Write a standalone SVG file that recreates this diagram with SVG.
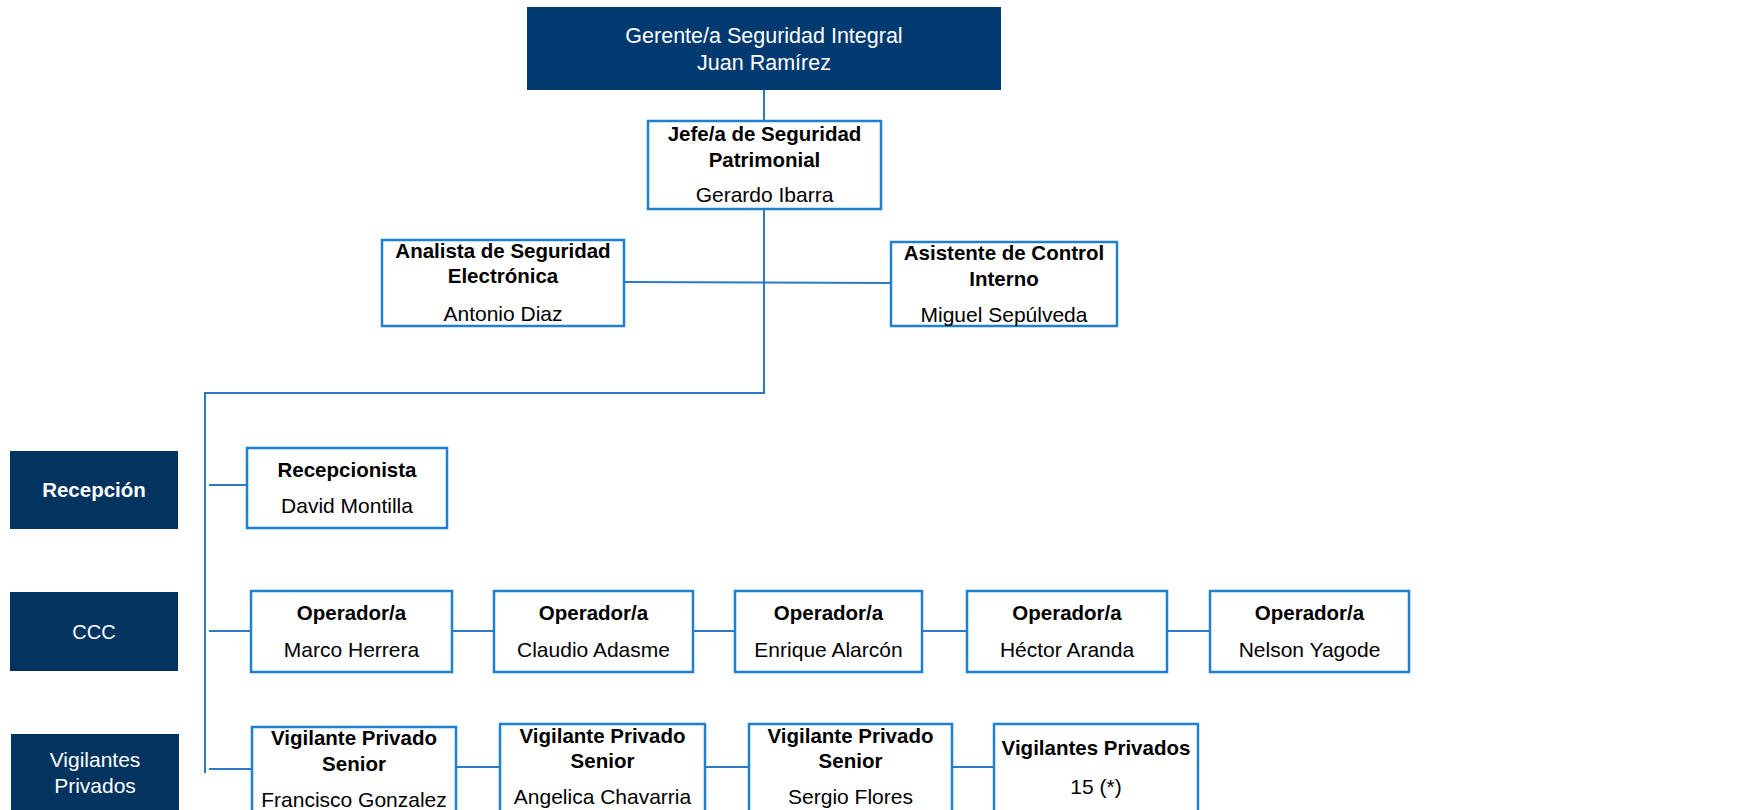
<svg xmlns="http://www.w3.org/2000/svg" width="1754" height="810" viewBox="0 0 1754 810">
<style>
.box{fill:#ffffff;stroke:#1F80D0;stroke-width:2.5}
.dark{fill:#013A70}
.side{fill:#03335F}
.conn{fill:none;stroke:#2A7BC4;stroke-width:2}
text{font-family:"Liberation Sans",Arial,sans-serif;text-anchor:middle;fill:#000000}
.b{font-weight:bold;font-size:20.5px}
.n{font-size:21px}
.w{fill:#ffffff}
</style>
<rect width="1754" height="810" fill="#ffffff"/>
<g id="connectors">
<path class="conn" d="M764 90 V120"/>
<path class="conn" d="M764 209 V393 H205 V773"/>
<path class="conn" d="M624 282 L891 283"/>
<path class="conn" d="M209 485 H247"/>
<path class="conn" d="M209 631 H251"/>
<path class="conn" d="M209 769 H252"/>
<path class="conn" d="M452 631 H494 M693 631 H735 M922 631 H967 M1167 631 H1210"/>
<path class="conn" d="M456 767 H500 M705 767 H749 M950 767 H994"/>
</g>
<g id="gerente">
<rect class="dark" x="527" y="7" width="474" height="83"/>
<text class="n w" x="764" y="43" style="font-size:21.5px">Gerente/a Seguridad Integral</text>
<text class="n w" x="764" y="70" style="font-size:21.5px">Juan Ramírez</text>
</g>
<g id="jefe">
<rect class="box" x="648" y="121" width="233" height="88"/>
<text class="b" x="764.5" y="141">Jefe/a de Seguridad</text>
<text class="b" x="764.5" y="167">Patrimonial</text>
<text class="n" x="764.5" y="202">Gerardo Ibarra</text>
</g>
<g id="analista">
<rect class="box" x="382" y="240" width="242" height="86"/>
<text class="b" x="503" y="258">Analista de Seguridad</text>
<text class="b" x="503" y="283">Electrónica</text>
<text class="n" x="503" y="321">Antonio Diaz</text>
</g>
<g id="asistente">
<rect class="box" x="891" y="242" width="226" height="84"/>
<text class="b" x="1004" y="260">Asistente de Control</text>
<text class="b" x="1004" y="286">Interno</text>
<text class="n" x="1004" y="322">Miguel Sepúlveda</text>
</g>
<g id="recepcion-label">
<rect class="side" x="10" y="451" width="168" height="78"/>
<text class="b w" x="94" y="497">Recepción</text>
</g>
<g id="ccc-label">
<rect class="side" x="10" y="592" width="168" height="79"/>
<text class="n w" x="94" y="639" style="font-size:20px">CCC</text>
</g>
<g id="vigilantes-label">
<rect class="side" x="11" y="734" width="168" height="80"/>
<text class="n w" x="95" y="767">Vigilantes</text>
<text class="n w" x="95" y="793">Privados</text>
</g>
<g id="recepcionista">
<rect class="box" x="247" y="448" width="200" height="80"/>
<text class="b" x="347" y="477">Recepcionista</text>
<text class="n" x="347" y="513">David Montilla</text>
</g>
<g id="op1">
<rect class="box" x="251" y="591" width="201" height="81"/>
<text class="b" x="351.5" y="620">Operador/a</text>
<text class="n" x="351.5" y="657">Marco Herrera</text>
</g>
<g id="op2">
<rect class="box" x="494" y="591" width="199" height="81"/>
<text class="b" x="593.5" y="620">Operador/a</text>
<text class="n" x="593.5" y="657">Claudio Adasme</text>
</g>
<g id="op3">
<rect class="box" x="735" y="591" width="187" height="81"/>
<text class="b" x="828.5" y="620">Operador/a</text>
<text class="n" x="828.5" y="657">Enrique Alarcón</text>
</g>
<g id="op4">
<rect class="box" x="967" y="591" width="200" height="81"/>
<text class="b" x="1067" y="620">Operador/a</text>
<text class="n" x="1067" y="657">Héctor Aranda</text>
</g>
<g id="op5">
<rect class="box" x="1210" y="591" width="199" height="81"/>
<text class="b" x="1309.5" y="620">Operador/a</text>
<text class="n" x="1309.5" y="657">Nelson Yagode</text>
</g>
<g id="vps1">
<rect class="box" x="252" y="727" width="204" height="90"/>
<text class="b" x="354" y="745">Vigilante Privado</text>
<text class="b" x="354" y="771">Senior</text>
<text class="n" x="354" y="807">Francisco Gonzalez</text>
</g>
<g id="vps2">
<rect class="box" x="500" y="724" width="205" height="92"/>
<text class="b" x="602.5" y="743">Vigilante Privado</text>
<text class="b" x="602.5" y="768">Senior</text>
<text class="n" x="602.5" y="804">Angelica Chavarria</text>
</g>
<g id="vps3">
<rect class="box" x="749" y="724" width="203" height="92"/>
<text class="b" x="850.5" y="743">Vigilante Privado</text>
<text class="b" x="850.5" y="768">Senior</text>
<text class="n" x="850.5" y="804">Sergio Flores</text>
</g>
<g id="vp15">
<rect class="box" x="994" y="724" width="204" height="92"/>
<text class="b" x="1096" y="755">Vigilantes Privados</text>
<text class="n" x="1096" y="794">15 (*)</text>
</g>
</svg>
